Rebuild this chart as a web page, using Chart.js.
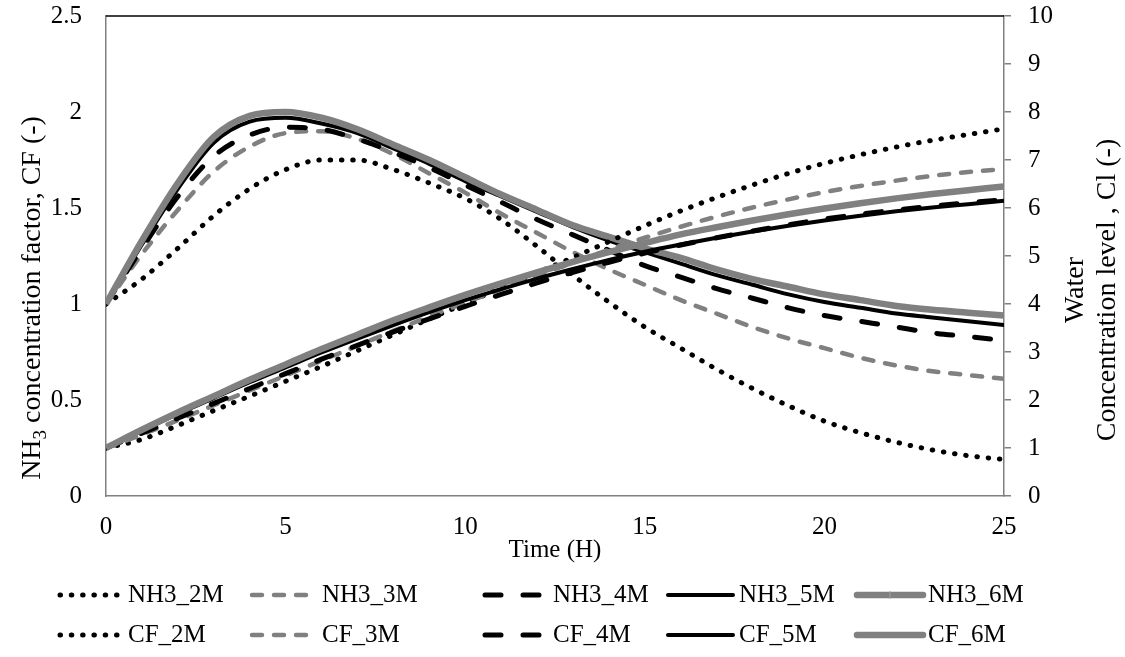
<!DOCTYPE html>
<html>
<head>
<meta charset="utf-8">
<script src="https://cdn.jsdelivr.net/npm/chart.js@4.4.1/dist/chart.umd.min.js"></script>
<style>
  html, body { margin: 0; padding: 0; background: #ffffff; }
  canvas { display: block; }
</style>
</head>
<body>
<canvas id="chart" width="1125" height="657"></canvas>
<script>
// Time axis (hours)
const hours = [0,1,2,3,4,5,6,7,8,9,10,11,12,13,14,15,16,17,18,19,20,21,22,23,24,25];

// NH3 concentration factor (left axis)
const nh3_2M = [1.00,1.13,1.29,1.46,1.60,1.70,1.75,1.75,1.70,1.63,1.55,1.44,1.30,1.15,1.01,0.88,0.77,0.66,0.56,0.47,0.39,0.33,0.28,0.24,0.21,0.19];
const nh3_3M = [1.00,1.26,1.49,1.69,1.82,1.89,1.90,1.86,1.78,1.68,1.58,1.47,1.37,1.27,1.18,1.10,1.02,0.95,0.88,0.82,0.77,0.72,0.68,0.65,0.63,0.61];
const nh3_4M = [1.00,1.29,1.56,1.77,1.88,1.92,1.91,1.86,1.79,1.71,1.62,1.53,1.44,1.36,1.28,1.20,1.14,1.08,1.03,0.98,0.94,0.91,0.88,0.85,0.83,0.81];
const nh3_5M = [1.00,1.31,1.60,1.84,1.95,1.97,1.94,1.89,1.81,1.73,1.64,1.56,1.48,1.40,1.33,1.27,1.21,1.15,1.10,1.05,1.01,0.98,0.95,0.93,0.91,0.89];
const nh3_6M = [1.00,1.33,1.63,1.87,1.98,2.00,1.97,1.91,1.83,1.75,1.66,1.57,1.49,1.41,1.35,1.29,1.24,1.18,1.13,1.09,1.05,1.02,0.99,0.97,0.955,0.94];

// Water concentration level (right axis)
const cf_2M = [1.00,1.18,1.47,1.78,2.08,2.39,2.70,3.03,3.36,3.69,4.01,4.33,4.65,4.97,5.30,5.63,5.94,6.22,6.48,6.72,6.93,7.11,7.27,7.41,7.53,7.65];
const cf_3M = [1.00,1.28,1.58,1.89,2.20,2.51,2.82,3.13,3.44,3.74,4.03,4.31,4.59,4.86,5.13,5.38,5.61,5.82,6.01,6.18,6.33,6.46,6.57,6.67,6.75,6.81];
const cf_4M = [1.00,1.31,1.62,1.93,2.24,2.55,2.85,3.14,3.42,3.69,3.95,4.20,4.44,4.66,4.87,5.06,5.23,5.38,5.52,5.65,5.77,5.87,5.96,6.04,6.11,6.17];
const cf_5M = [1.00,1.36,1.71,2.04,2.37,2.68,2.99,3.28,3.56,3.83,4.08,4.31,4.53,4.73,4.92,5.09,5.24,5.38,5.51,5.63,5.74,5.84,5.93,6.01,6.08,6.15];
const cf_6M = [1.00,1.38,1.74,2.08,2.42,2.74,3.06,3.36,3.66,3.93,4.19,4.43,4.66,4.88,5.08,5.27,5.45,5.60,5.74,5.87,5.99,6.10,6.20,6.29,6.37,6.45];

const GRAY = '#808080';
const BLACK = '#000000';
const FONT = "'Liberation Serif', 'Times New Roman', serif";

// Line look per molarity
const lineLook = {
  '2M': { color: BLACK, width: 5,   dash: [0.5, 10.8] },
  '3M': { color: GRAY,  width: 4.5, dash: [10, 12] },
  '4M': { color: BLACK, width: 5,   dash: [16, 22] },
  '5M': { color: BLACK, width: 4,   dash: [] },
  '6M': { color: GRAY,  width: 6.5, dash: [] }
};

const seriesList = [
  { label: 'NH3_2M', values: nh3_2M, axis: 'yL', look: '2M' },
  { label: 'NH3_3M', values: nh3_3M, axis: 'yL', look: '3M' },
  { label: 'NH3_4M', values: nh3_4M, axis: 'yL', look: '4M' },
  { label: 'NH3_5M', values: nh3_5M, axis: 'yL', look: '5M' },
  { label: 'NH3_6M', values: nh3_6M, axis: 'yL', look: '6M' },
  { label: 'CF_2M',  values: cf_2M,  axis: 'yR', look: '2M' },
  { label: 'CF_3M',  values: cf_3M,  axis: 'yR', look: '3M' },
  { label: 'CF_4M',  values: cf_4M,  axis: 'yR', look: '4M' },
  { label: 'CF_5M',  values: cf_5M,  axis: 'yR', look: '5M' },
  { label: 'CF_6M',  values: cf_6M,  axis: 'yR', look: '6M' }
];

const datasets = seriesList.map((s, i) => {
  const lk = lineLook[s.look];
  return {
    label: s.label,
    data: hours.map((h, k) => ({ x: h, y: s.values[k] })),
    yAxisID: s.axis,
    borderColor: lk.color,
    backgroundColor: lk.color,
    borderWidth: lk.width,
    borderDash: lk.dash,
    borderCapStyle: lk.dash.length ? 'round' : 'butt',
    borderJoinStyle: 'round',
    cubicInterpolationMode: 'monotone',
    pointRadius: 0,
    fill: false,
    order: seriesList.length - i   // later series drawn on top
  };
});

// Axis titles, top frame line and the two-row legend
const decorations = {
  id: 'decorations',
  afterDraw(chart) {
    const ctx = chart.ctx;
    const a = chart.chartArea;
    ctx.save();

    // top frame line
    ctx.strokeStyle = BLACK;
    ctx.lineWidth = 1.5;
    ctx.beginPath();
    ctx.moveTo(a.left, a.top);
    ctx.lineTo(a.right, a.top);
    ctx.stroke();

    ctx.fillStyle = BLACK;
    ctx.textBaseline = 'alphabetic';

    // left title with subscript
    const big = '28px ' + FONT, small = '19px ' + FONT;
    ctx.save();
    ctx.translate(40, 298);
    ctx.rotate(-Math.PI / 2);
    ctx.font = big;  const w1 = ctx.measureText('NH').width;
    ctx.font = small; const w2 = ctx.measureText('3').width;
    ctx.font = big;  const w3 = ctx.measureText(' concentration factor, CF (-)').width;
    let x0 = -(w1 + w2 + w3) / 2;
    ctx.textAlign = 'left';
    ctx.font = big; ctx.fillText('NH', x0, 0);
    ctx.font = small; ctx.fillText('3', x0 + w1, 6);
    ctx.font = big; ctx.fillText(' concentration factor, CF (-)', x0 + w1 + w2, 0);
    ctx.restore();

    // right title, two lines
    ctx.save();
    ctx.translate(1083, 290);
    ctx.rotate(-Math.PI / 2);
    ctx.font = big;
    ctx.textAlign = 'center';
    ctx.fillText('Water', 0, 0);
    ctx.fillText('Concentration level , Cl (-)', 0, 32);
    ctx.restore();

    // x title
    ctx.font = '25px ' + FONT;
    ctx.textAlign = 'center';
    ctx.textBaseline = 'middle';
    ctx.fillText('Time (H)', 555, 550);

    // legend
    const cols = [
      { x1: 60,  x2: 117, tx: 128 },
      { x1: 252, x2: 309, tx: 322 },
      { x1: 485, x2: 545, tx: 553 },
      { x1: 668, x2: 733, tx: 739 },
      { x1: 857, x2: 923, tx: 928 }
    ];
    const rows = [595, 635];
    ctx.font = '25px ' + FONT;
    ctx.textAlign = 'left';
    ctx.textBaseline = 'middle';
    chart.data.datasets.forEach((ds, i) => {
      const c = cols[i % 5], y = rows[Math.floor(i / 5)];
      ctx.save();
      ctx.strokeStyle = ds.borderColor;
      ctx.lineWidth = ds.borderWidth;
      ctx.setLineDash(ds.borderDash);
      ctx.lineCap = 'round';
      ctx.beginPath();
      ctx.moveTo(c.x1, y);
      ctx.lineTo(c.x2, y);
      ctx.stroke();
      ctx.restore();
      ctx.fillStyle = BLACK;
      ctx.fillText(ds.label, c.tx, y);
    });
    // small marker on the NH3_6M legend sample
    ctx.strokeStyle = '#a0a0a0';
    ctx.lineWidth = 1;
    ctx.beginPath();
    ctx.moveTo(890, 591); ctx.lineTo(890, 599);
    ctx.stroke();

    ctx.restore();
  }
};

const tickFont = { family: FONT, size: 25 };
const plainNum = v => String(Number(v.toFixed(2)));

new Chart(document.getElementById('chart'), {
  type: 'line',
  data: { datasets },
  options: {
    responsive: false,
    animation: false,
    devicePixelRatio: 1,
    layout: { padding: { top: 16, left: 0, right: 0, bottom: 0 } },
    plugins: { legend: { display: false }, tooltip: { enabled: false } },
    scales: {
      x: {
        type: 'linear', position: 'bottom', min: 0, max: 25,
        ticks: { stepSize: 5, color: BLACK, font: tickFont, padding: 16, maxRotation: 0, callback: plainNum },
        grid: { display: false, drawTicks: false },
        border: { display: true, color: GRAY, width: 1.5 },
        afterFit(s) { s.height = 161; }
      },
      yL: {
        type: 'linear', position: 'left', min: 0, max: 2.5,
        ticks: { stepSize: 0.5, color: BLACK, font: tickFont, padding: 24, callback: plainNum },
        grid: { display: false, drawTicks: false },
        border: { display: true, color: GRAY, width: 1.5 },
        afterFit(s) { s.width = 106; s.paddingTop = 0; s.paddingBottom = 0; }
      },
      yR: {
        type: 'linear', position: 'right', min: 0, max: 10,
        ticks: { stepSize: 1, color: BLACK, font: tickFont, padding: 17, callback: plainNum },
        grid: { display: true, drawOnChartArea: false, drawTicks: true, tickLength: 7, color: GRAY, lineWidth: 1.5 },
        border: { display: true, color: GRAY, width: 1.5 },
        afterFit(s) { s.width = 121; s.paddingTop = 0; s.paddingBottom = 0; }
      }
    }
  },
  plugins: [decorations]
});
</script>
</body>
</html>
